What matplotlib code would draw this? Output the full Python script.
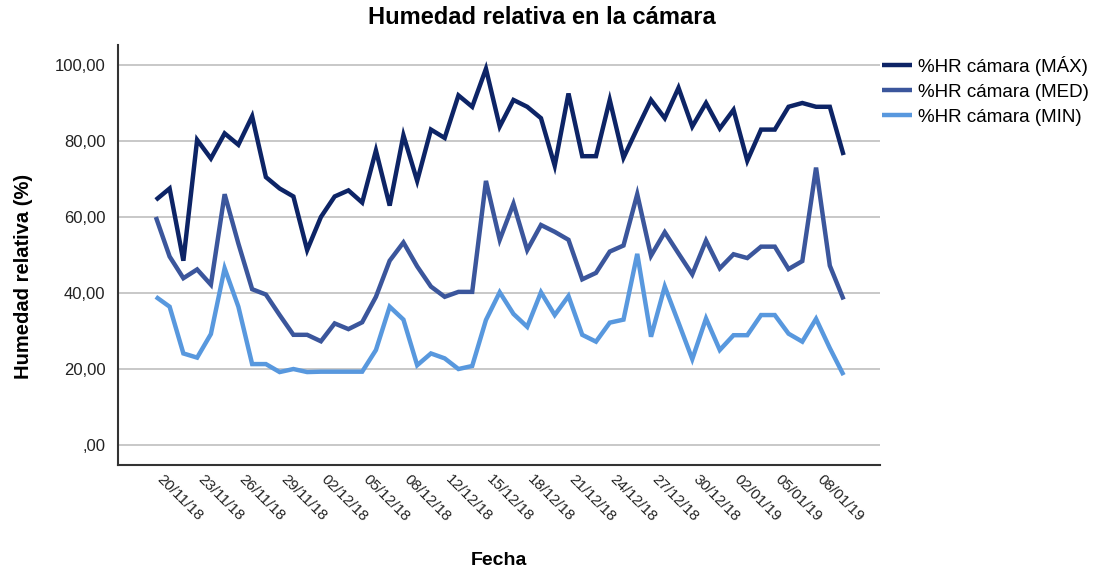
import matplotlib
matplotlib.use('Agg')
import matplotlib.pyplot as plt
import matplotlib.transforms as mtransforms
from matplotlib.ticker import FuncFormatter

# fechas (una por día, falta un día entre el 08/12 y el 12/12)
fechas = ['19/11/18', '20/11/18', '21/11/18', '22/11/18', '23/11/18', '24/11/18',
          '25/11/18', '26/11/18', '27/11/18', '28/11/18', '29/11/18', '30/11/18',
          '01/12/18', '02/12/18', '03/12/18', '04/12/18', '05/12/18', '06/12/18',
          '07/12/18', '08/12/18', '10/12/18', '11/12/18', '12/12/18', '13/12/18',
          '14/12/18', '15/12/18', '16/12/18', '17/12/18', '18/12/18', '19/12/18',
          '20/12/18', '21/12/18', '22/12/18', '23/12/18', '24/12/18', '25/12/18',
          '26/12/18', '27/12/18', '28/12/18', '29/12/18', '30/12/18', '31/12/18',
          '01/01/19', '02/01/19', '03/01/19', '04/01/19', '05/01/19', '06/01/19',
          '07/01/19', '08/01/19', '09/01/19']

hr_max = [64.5, 67.5, 48.5, 80.3, 75.4, 82, 79, 86.5, 70.5, 67.5,
          65.4, 51.3, 60, 65.4, 67, 63.8, 77.5, 63, 81.5, 69.5,
          83, 80.8, 92, 89, 99, 83.8, 90.8, 89, 86, 73.5,
          92.5, 76, 76, 90.8, 75.6, 83.3, 90.8, 86, 94, 83.8,
          90, 83.3, 88.2, 74.8, 83, 83, 89, 90, 89, 89, 76.3]

hr_med = [60, 49.6, 43.9, 46.2, 42.2, 66, 53, 41, 39.6, 34.2,
          29, 29, 27.3, 32, 30.5, 32.3, 39, 48.5, 53.3, 47,
          41.7, 39, 40.3, 40.3, 69.5, 54, 63.5, 51.3, 57.9, 56.1,
          54, 43.6, 45.3, 50.9, 52.5, 66, 49.8, 56, 50.4, 44.9,
          53.8, 46.5, 50.2, 49.2, 52.2, 52.2, 46.3, 48.4, 73, 47.2, 38.3]

hr_min = [39, 36.4, 24.1, 23, 29.2, 46.5, 36.4, 21.3, 21.3, 19.2,
          20, 19.2, 19.3, 19.3, 19.3, 19.3, 25, 36.4, 33, 21,
          24.1, 22.8, 20, 20.8, 32.9, 40.2, 34.5, 31.1, 40.2, 34.2,
          39.2, 29, 27.2, 32.2, 33, 50.3, 28.5, 41.7, 32.2, 22.6,
          33.3, 25, 28.9, 28.9, 34.2, 34.2, 29.3, 27.2, 33.2, 25.5, 18.4]

series = [('%HR cámara (MÁX)', hr_max, '#0d2466'),
          ('%HR cámara (MED)', hr_med, '#3b569c'),
          ('%HR cámara (MIN)', hr_min, '#5898de')]

plt.rcParams['font.family'] = ['Liberation Sans', 'DejaVu Sans']

fig = plt.figure(figsize=(10.97, 5.71), dpi=100)
ax = fig.add_axes([0.1076, 0.1856, 0.6946, 0.7356])

x = list(range(len(fechas)))
for nombre, valores, color in series:
    ax.plot(x, valores, color=color, linewidth=3.2, label=nombre,
            solid_joinstyle='miter', solid_capstyle='butt')

ax.set_xlim(-2.75, len(fechas) - 1 + 2.65)
ax.set_ylim(-5.26, 105.26)
ax.set_yticks([0, 20, 40, 60, 80, 100])
ax.yaxis.set_major_formatter(FuncFormatter(
    lambda v, p: ',00' if v == 0 else f'{v:.2f}'.replace('.', ',')))
ax.grid(axis='y', color='#c8c8c8', linewidth=1.4)
ax.set_axisbelow(True)

for s in ['top', 'right']:
    ax.spines[s].set_visible(False)
for s in ['left', 'bottom']:
    ax.spines[s].set_color('#333333')
    ax.spines[s].set_linewidth(1.5)

ax.tick_params(axis='both', length=0, colors='#222222')
ax.tick_params(axis='y', labelsize=12, pad=9)

ticks = x[1::3]
ax.set_xticks(ticks)
ax.set_xticklabels([fechas[i] for i in ticks], rotation=-45, ha='center',
                   va='top', fontsize=11)
offset = mtransforms.ScaledTranslation(10 / 100, -2 / 100, fig.dpi_scale_trans)
for lab in ax.get_xticklabels():
    lab.set_transform(lab.get_transform() + offset)

fig.text(542 / 1097, 1 - 18 / 571, 'Humedad relativa en la cámara',
         fontsize=17, fontweight='bold', ha='center', va='center')
ax.set_ylabel('Humedad relativa (%)', fontsize=14.5, fontweight='bold')
ax.yaxis.set_label_coords(-0.112, 0.45)
ax.set_xlabel('Fecha', fontsize=14, fontweight='bold', labelpad=20)

fig.legend(loc='upper left', bbox_to_anchor=(882 / 1097, 1 - 56 / 571),
           frameon=False, fontsize=13.5, handlelength=1.6, handletextpad=0.3,
           labelspacing=0.42, borderaxespad=0, borderpad=0)

fig.savefig('out.png', dpi=100)
